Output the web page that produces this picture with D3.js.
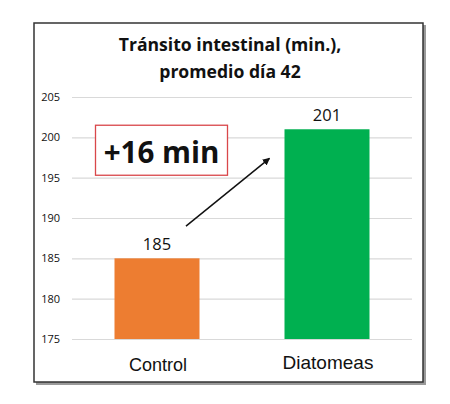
<!DOCTYPE html>
<html>
<head>
<meta charset="utf-8">
<script src="https://cdn.jsdelivr.net/npm/d3@7"></script>
<style>
  body { margin: 0; background: #fff; }
  svg { display: block; }
</style>
</head>
<body>
<div id="chart"></div>
<script>
const categories = ["Control", "Diatomeas"];
const values = [185, 201];
const barColors = ["#ED7D31", "#00B050"];
const tickValues = [175, 180, 185, 190, 195, 200, 205];
const titleLines = ["Tránsito intestinal (min.),", "promedio día 42"];
const note = "+16 min";

const width = 450,
    height = 404,
    margin = {top: 97, right: 38, bottom: 65, left: 72} // plot area inside the frame

const svg = d3.select("#chart")
    .append("svg")
    .attr("width", width)
    .attr("height", height);

const defs = svg.append("defs");
defs.append("marker")
    .attr("id", "arrow")
    .attr("viewBox", "0 0 10 10")
    .attr("refX", 9)
    .attr("refY", 5)
    .attr("markerWidth", 5)
    .attr("markerHeight", 5)
    .attr("orient", "auto")
    .append("path")
    .attr("d", "M0,0L10,5L0,10z")
    .attr("fill", "#111");

// frame with drop shadow
svg.append("rect")
    .attr("x", 36).attr("y", 25)
    .attr("width", 390).attr("height", 360)
    .attr("fill", "#9a9a9a");
svg.append("rect")
    .attr("x", 34).attr("y", 23)
    .attr("width", 389).attr("height", 359)
    .attr("fill", "#fff")
    .attr("stroke", "#333")
    .attr("stroke-width", 1.5);

const x = d3.scaleBand()
    .domain(categories)
    .range([margin.left, width - margin.right])
    .paddingInner(0.5)
    .paddingOuter(0.25);

const y = d3.scaleLinear()
    .domain([175, 205])
    .range([height - margin.bottom, margin.top]);

// title
svg.append("g")
    .attr("font-family", "Open Sans, sans-serif")
    .attr("font-weight", "bold")
    .attr("font-size", 17.6)
    .attr("text-anchor", "middle")
    .attr("fill", "#111")
    .selectAll("text")
    .data(titleLines)
    .join("text")
    .attr("x", 230)
    .attr("y", (d, i) => 51 + i * 27)
    .text(d => d);

// gridlines + tick labels
const yAxis = svg.append("g")
    .attr("transform", `translate(${margin.left},0)`)
    .call(d3.axisLeft(y)
        .tickValues(tickValues)
        .tickSize(-(width - margin.left - margin.right))
        .tickPadding(12));
yAxis.select(".domain").remove();
yAxis.selectAll(".tick line")
    .attr("stroke", "#d9d9d9")
    .attr("stroke-width", 1.2);
yAxis.selectAll(".tick text")
    .attr("font-family", "Open Sans, sans-serif")
    .attr("font-size", 11)
    .attr("fill", "#111");

// bars
svg.append("g")
    .selectAll("rect")
    .data(categories)
    .join("rect")
    .attr("x", d => x(d))
    .attr("y", (d, i) => y(values[i]))
    .attr("width", x.bandwidth())
    .attr("height", (d, i) => y(175) - y(values[i]))
    .attr("fill", (d, i) => barColors[i]);

// value labels
svg.append("g")
    .attr("font-family", "Open Sans, sans-serif")
    .attr("font-size", 16.5)
    .attr("text-anchor", "middle")
    .attr("fill", "#111")
    .selectAll("text")
    .data(categories)
    .join("text")
    .attr("x", d => x(d) + x.bandwidth() / 2)
    .attr("y", (d, i) => y(values[i]) - 8)
    .text((d, i) => values[i]);

// category labels
svg.append("g")
    .attr("font-family", "Liberation Sans, Arial, sans-serif")
    .attr("text-anchor", "middle")
    .attr("fill", "#111")
    .selectAll("text")
    .data(categories)
    .join("text")
    .attr("font-size", (d, i) => i ? 19 : 18)
    .attr("x", d => x(d) + x.bandwidth() / 2 + 1)
    .attr("y", (d, i) => i ? 369 : 371)
    .text(d => d);

// difference callout
const boxX = x(categories[0]) - 19,
    boxY = y(201.5)
svg.append("rect")
    .attr("x", boxX)
    .attr("y", boxY)
    .attr("width", 132)
    .attr("height", y(195.3) - boxY)
    .attr("fill", "#fff")
    .attr("stroke", "#d9474a")
    .attr("stroke-width", 1.3);
svg.append("text")
    .attr("x", boxX + 66)
    .attr("y", boxY + 38)
    .attr("text-anchor", "middle")
    .attr("font-family", "Open Sans, sans-serif")
    .attr("font-weight", "bold")
    .attr("font-size", 29.5)
    .attr("fill", "#111")
    .text(note);

// arrow from control to diatomeas
svg.append("line")
    .attr("x1", x(categories[0]) + x.bandwidth() / 2 + 29)
    .attr("y1", y(189))
    .attr("x2", x(categories[1]) - 15)
    .attr("y2", y(197.4))
    .attr("stroke", "#111")
    .attr("stroke-width", 1.5)
    .attr("marker-end", "url(#arrow)");
</script>
</body>
</html>
